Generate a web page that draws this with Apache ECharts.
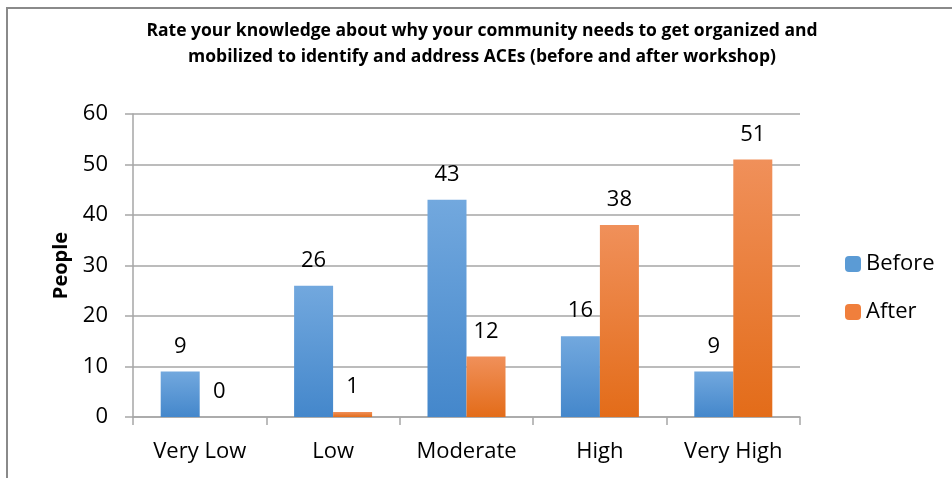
<!DOCTYPE html>
<html>
<head>
<meta charset="utf-8">
<script src="https://cdn.jsdelivr.net/npm/echarts@6/dist/echarts.min.js"></script>
<style>html,body{margin:0;padding:0;background:#fff}#c{width:952px;height:478px}</style>
</head>
<body>
<div id="c"></div>
<script>
var categories = ['Very Low', 'Low', 'Moderate', 'High', 'Very High'];
var beforeValues = [9, 26, 43, 16, 9];
var afterValues = [0, 1, 12, 38, 51];
var yTicks = [0, 10, 20, 30, 40, 50, 60];
var titleText = 'Rate your knowledge about why your community needs to get organized and\nmobilized to identify and address ACEs (before and after workshop)';

var FONT = 'Open Sans';
function grad(top, bottom) {
  return new echarts.graphic.LinearGradient(0, 0, 0, 1, [{offset: 0, color: top}, {offset: 1, color: bottom}]);
}
var chart = echarts.init(document.getElementById('c'));
chart.setOption({
  animation: false,
  backgroundColor: '#fff',
  graphic: [{type: 'rect', shape: {x: 7, y: 8, width: 1000, height: 600}, style: {fill: 'none', stroke: '#8a8a8a', lineWidth: 2}, silent: true}],
  title: {
    text: titleText, left: 477, top: 13, textAlign: 'center',
    textStyle: {fontFamily: FONT, fontWeight: 'bold', fontSize: 17.5, lineHeight: 26, color: '#000'}
  },
  legend: {
    orient: 'vertical', left: 840, top: 248, itemWidth: 16, itemHeight: 16, itemGap: 26,
    textStyle: {fontFamily: FONT, fontSize: 22, color: '#000'},
    data: [{name: 'Before', itemStyle: {color: '#5b9bd5'}}, {name: 'After', itemStyle: {color: '#f07f3c'}}]
  },
  grid: {left: 133, right: 152, top: 114, bottom: 61},
  xAxis: {
    type: 'category', data: categories,
    axisLine: {lineStyle: {color: '#a6a6a6', width: 1.5}},
    axisTick: {show: true, length: 8, lineStyle: {color: '#a6a6a6', width: 1.5}},
    axisLabel: {fontFamily: FONT, fontSize: 22, color: '#000', margin: 24}
  },
  yAxis: {
    type: 'value', min: yTicks[0], max: yTicks[yTicks.length - 1], interval: 10,
    name: 'People', nameLocation: 'middle', nameGap: 62,
    nameTextStyle: {fontFamily: FONT, fontWeight: 'bold', fontSize: 20, color: '#000'},
    axisLine: {show: true, lineStyle: {color: '#a6a6a6', width: 1.5}},
    axisTick: {show: true, length: 8, lineStyle: {color: '#a6a6a6', width: 1.5}},
    splitLine: {lineStyle: {color: '#a6a6a6', width: 1.5}},
    axisLabel: {fontFamily: FONT, fontSize: 22, color: '#000', margin: 25}
  },
  series: [
    {name: 'Before', type: 'bar', data: beforeValues, barWidth: 39, barGap: '0%',
     itemStyle: {color: grad('#72a8de', '#4487cb')},
     label: {show: true, position: 'top', distance: 14, fontFamily: FONT, fontSize: 22, color: '#000'}},
    {name: 'After', type: 'bar', data: afterValues, barWidth: 39,
     itemStyle: {color: grad('#f0905a', '#e36c19')},
     label: {show: true, position: 'top', distance: 14, fontFamily: FONT, fontSize: 22, color: '#000'}}
  ]
});
</script>
</body>
</html>
